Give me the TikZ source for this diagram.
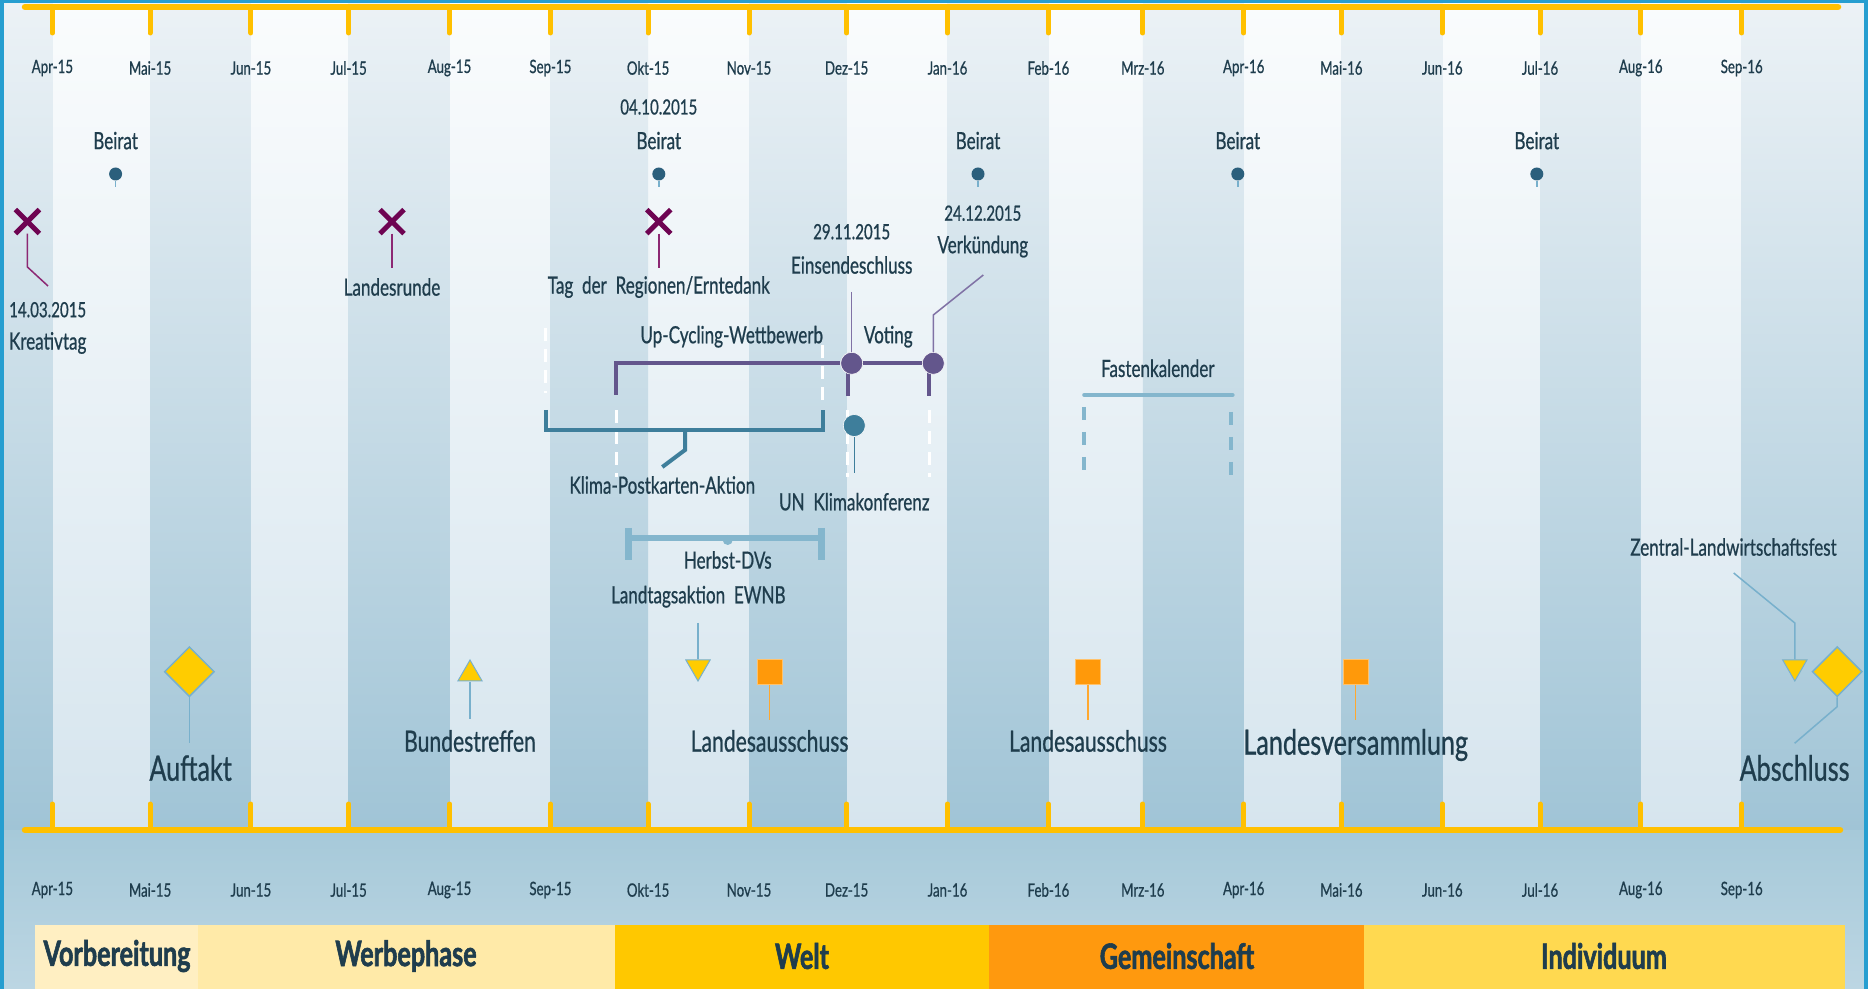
\documentclass[tikz,border=0pt]{standalone}
\usepackage{fontspec}
\setmainfont{Lato}[FakeStretch=0.72,FakeBold=0.7,BoldFeatures={FakeBold=1.6}]
\usepackage{xcolor}
\definecolor{Ink}{RGB}{31,61,77}
\definecolor{Gold}{RGB}{255,192,0}
\definecolor{Frame}{RGB}{38,158,208}
\definecolor{LightTop}{RGB}{250,252,253}
\definecolor{LightBot}{RGB}{214,229,238}
\definecolor{DarkTop}{RGB}{236,242,246}
\definecolor{DarkBot}{RGB}{160,196,214}
\definecolor{BaseTop}{RGB}{166,201,217}
\definecolor{BaseBot}{RGB}{188,214,227}
\definecolor{Plum}{RGB}{110,4,82}
\definecolor{PlumLine}{RGB}{140,40,115}
\definecolor{Violet}{RGB}{99,86,140}
\definecolor{VioletLine}{RGB}{128,114,165}
\definecolor{Teal}{RGB}{62,126,155}
\definecolor{TealDark}{RGB}{43,95,124}
\definecolor{Sky}{RGB}{132,182,205}
\definecolor{SkyLine}{RGB}{120,176,204}
\definecolor{Sun}{RGB}{255,204,0}
\definecolor{Tangerine}{RGB}{255,153,10}
\definecolor{PhaseA}{RGB}{255,239,194}
\definecolor{PhaseB}{RGB}{255,234,168}
\definecolor{PhaseC}{RGB}{255,200,0}
\definecolor{PhaseD}{RGB}{255,153,14}
\definecolor{PhaseE}{RGB}{255,217,80}
\usepackage{tikz}
\usetikzlibrary{shapes.geometric}
\usetikzlibrary{shapes.misc}
\tikzstyle{Month}=[text=Ink,inner sep=0pt,font=\fontsize{10.5}{12}\selectfont]
\tikzstyle{Label}=[text=Ink,inner sep=0pt,font=\fontsize{13.5}{16}\selectfont]
\tikzstyle{Date}=[Label,font=\fontsize{11.9}{14}\selectfont]
\tikzstyle{LabelM}=[Label,font=\fontsize{16.7}{20}\selectfont]
\tikzstyle{LabelL}=[Label,font=\fontsize{19.9}{24}\selectfont]
\tikzstyle{Phase}=[Label,font=\fontsize{19.9}{24}\selectfont\bfseries]
\tikzstyle{Axis}=[draw=Gold,line width=1.3mm,line cap=round]
\tikzstyle{Tick}=[draw=Gold,line width=1mm,line cap=round]
\tikzstyle{Cross}=[cross out,draw=Plum,line width=1mm,minimum size=3.8mm,inner sep=0pt]
\tikzstyle{BeiratDot}=[circle,fill=TealDark,minimum size=2.6mm,inner sep=0pt]
\tikzstyle{Knot}=[circle,fill=Violet,draw=white,line width=.3pt,minimum size=4.4mm,inner sep=0pt]
\tikzstyle{UNDot}=[circle,fill=Teal,draw=white,line width=.3pt,minimum size=4.4mm,inner sep=0pt]
\tikzstyle{Rhomb}=[diamond,fill=Sun,draw=SkyLine,line width=.3mm,minimum size=10mm,inner sep=0pt]
\tikzstyle{TriUp}=[regular polygon,regular polygon sides=3,fill=Sun,draw=SkyLine,line width=.2mm,minimum size=5.6mm,inner sep=0pt]
\tikzstyle{TriDown}=[TriUp,shape border rotate=180]
\tikzstyle{Square}=[rectangle,fill=Tangerine,draw=Tangerine!60!white,line width=.2mm,minimum size=5mm,inner sep=0pt]
\tikzstyle{Beam}=[draw=Violet,line width=.8mm]
\tikzstyle{Bracket}=[draw=Teal,line width=.8mm]
\tikzstyle{Span}=[draw=Sky,line width=1.2mm]
\tikzstyle{PinPlum}=[draw=PlumLine,line width=.3mm]
\tikzstyle{PinViolet}=[draw=VioletLine,line width=.3mm]
\tikzstyle{PinSky}=[draw=SkyLine,line width=.3mm]
\tikzstyle{PinOrange}=[draw=Tangerine!85!white,line width=.3mm]
\tikzstyle{WhiteDash}=[draw=white,line width=.6mm,dash pattern=on 2.6mm off 1.6mm]
\tikzstyle{SkyDash}=[draw=Sky,line width=.8mm,dash pattern=on 2.6mm off 2.4mm]

\begin{document}
\begin{tikzpicture}[x=.2mm,y=-.2mm]
    \useasboundingbox(0,0)rectangle(1868,989);
    \shade[top color=LightTop,bottom color=LightBot](0,0)rectangle(1868,830);
    \foreach \a/\b in {0/52.4,150.1/250.9,348.6/449.5,550.4/648.1,749.0/846.6,
        947.5/1048.4,1142.8/1243.7,1341.4/1442.3,1540.0/1640.8,1741.7/1868}
        \shade[top color=DarkTop,bottom color=DarkBot](\a,0)rectangle(\b,830);
    \shade[top color=BaseTop,bottom color=BaseBot](0,830)rectangle(1868,989);
    \fill[Frame](0,0)rectangle(1868,3.5);
    \fill[Frame](0,0)rectangle(4,989);
    \fill[Frame](1864,0)rectangle(1868,989);
    \draw[Axis](25,7)--(1838,7);
    \draw[Axis](25,830)--(1840,830);
    \foreach \x/\m [count=\i] in {52.4/Apr-15,150.1/Mai-15,250.9/Jun-15,348.6/Jul-15,
        449.5/Aug-15,550.4/Sep-15,648.1/Okt-15,749.0/Nov-15,846.6/Dez-15,947.5/Jan-16,
        1048.4/Feb-16,1142.8/Mrz-16,1243.7/Apr-16,1341.4/Mai-16,1442.3/Jun-16,
        1540.0/Jul-16,1640.8/Aug-16,1741.7/Sep-16}{
        \draw[Tick](\x,10)--(\x,33);
        \draw[Tick](\x,804)--(\x,830);
        \node[Month](mt\i)at(\x,68){\m};
        \node[Month](mb\i)at(\x,890){\m};
    }
    \fill[PhaseA](35,925)rectangle(198,989);
    \fill[PhaseB](198,925)rectangle(615,989);
    \fill[PhaseC](615,925)rectangle(989,989);
    \fill[PhaseD](989,925)rectangle(1364,989);
    \fill[PhaseE](1364,925)rectangle(1845,989);
    \node[Phase](vorb)at(117,956){Vorbereitung};
    \node[Phase](werb)at(406,956){Werbephase};
    \node[Phase](welt)at(802,956){Welt};
    \node[Phase](gem)at(1177,956){Gemeinschaft};
    \node[Phase](ind)at(1604,956){Individuum};
    \draw[WhiteDash](545.7,328)--(545.7,393);
    \draw[WhiteDash](616.3,410)--(616.3,477);
    \draw[WhiteDash](822.7,345)--(822.7,405);
    \draw[WhiteDash](847.7,410)--(847.7,477);
    \draw[WhiteDash](929,410)--(929,477);
    \foreach \x [count=\i] in {115.6,658.8,978,1237.8,1536.8}{
        \node[Label](beirat\i)at(\x,140.6){Beirat};
        \node[BeiratDot](bdot\i)at(\x,174){};
        \coordinate(bstem\i)at(\x,187);
        \draw[PinSky](bdot\i.south)--(bstem\i);
    }
    \node[Date](d0410)at(658.8,107){04.10.2015};
    \node[Cross](x1)at(27.4,221.6){};
    \node[Cross](x2)at(392,221.6){};
    \node[Cross](x3)at(658.8,221.6){};
    \coordinate(x1b)at(27.4,267);
    \coordinate(x1e)at(48,286);
    \coordinate(x2e)at(392,268);
    \coordinate(x3e)at(658.8,268);
    \draw[PinPlum](x1)--(x1b)--(x1e);
    \draw[PinPlum](x2)--(x2e);
    \draw[PinPlum](x3)--(x3e);
    \node[Date](d1403)at(47.7,309.7){14.03.2015};
    \node[Label](kreativ)at(47.7,343){Kreativtag};
    \node[Label](landesrunde)at(392,287){Landesrunde};
    \node[Label](tag)at(658.8,287){Tag\ \ der\ \ Regionen/Erntedank};
    \coordinate(uc0)at(616.3,395);
    \coordinate(uc1)at(616.3,363.3);
    \node[Knot](einsend)at(851.7,363.3){};
    \node[Knot](verk)at(933.3,363.3){};
    \coordinate(e1)at(847.5,363.3);
    \coordinate(e2)at(847.5,396);
    \coordinate(v1)at(928.5,363.3);
    \coordinate(v2)at(928.5,396);
    \draw[Beam](uc0)--(uc1)--(einsend)--(verk);
    \draw[Beam](e1)--(e2);
    \draw[Beam](v1)--(v2);
    \node[Knot]at(einsend){};
    \node[Knot]at(verk){};
    \node[Label](upcycling)at(731.7,336.7){Up-Cycling-Wettbewerb};
    \node[Label](voting)at(888.3,336.7){Voting};
    \node[Date](d2911)at(851.7,231.7){29.11.2015};
    \node[Label](einsendl)at(851.7,265){Einsendeschluss};
    \coordinate(einsendp)at(851.7,292);
    \draw[PinViolet](einsendp)--(einsend);
    \node[Date](d2412)at(982.8,213.2){24.12.2015};
    \node[Label](verkl)at(982.8,246.6){Verkündung};
    \coordinate(verkp)at(983.3,275);
    \coordinate(verkk)at(933.3,315);
    \draw[PinViolet](verkp)--(verkk)--(verk);
    \coordinate(kp0)at(545.7,410);
    \coordinate(kp1)at(545.7,430);
    \coordinate(kp2)at(822.7,430);
    \coordinate(kp3)at(822.7,410);
    \coordinate(kpm)at(685,430);
    \coordinate(kpn)at(685,450);
    \coordinate(kpe)at(662.3,467);
    \draw[Bracket](kp0)--(kp1)--(kp2)--(kp3);
    \draw[Bracket](kpm)--(kpn)--(kpe);
    \node[Label](klima)at(662.3,485){Klima-Postkarten-Aktion};
    \node[UNDot](un)at(854.3,425.5){};
    \coordinate(une)at(854.3,473);
    \draw[draw=Teal,line width=.3mm](un)--(une);
    \node[UNDot]at(un){};
    \node[Label](unl)at(854.3,501.7){UN\ \ Klimakonferenz};
    \coordinate(hb0)at(628,538.3);
    \coordinate(hb1)at(821,538.3);
    \draw[Span](hb0)--(hb1);
    \draw[Span,line width=1.4mm](628,528)--(628,560);
    \draw[Span,line width=1.4mm](821,528)--(821,560);
    \fill[Sky](727.7,540)circle(5);
    \node[Label](herbst)at(727.7,560){Herbst-DVs};
    \node[Label](landtag)at(698.3,596.7){Landtagsaktion\ \ EWNB};
    \node[TriDown](landtagm)at(698,667){};
    \coordinate(landtagp)at(698,623);
    \draw[PinSky](landtagp)--(landtagm.north);
    \node[Label](fasten)at(1157.8,368.3){Fastenkalender};
    \coordinate(fk0)at(1084.2,395);
    \coordinate(fk1)at(1232.6,395);
    \draw[draw=Sky,line width=.8mm,line cap=round](fk0)--(fk1);
    \draw[SkyDash](1084.2,407)--(1084.2,475);
    \draw[SkyDash](1231.4,412)--(1231.4,480);
    \node[Rhomb](auftaktm)at(189.4,671.7){};
    \coordinate(auftaktp)at(189.4,743);
    \draw[PinSky](auftaktm.south)--(auftaktp);
    \node[LabelL](auftakt)at(190.6,768){Auftakt};
    \node[TriUp](bundm)at(470,674){};
    \coordinate(bundp)at(470,719);
    \draw[PinSky](bundm.south)--(bundp);
    \node[LabelM](bund)at(470,741){Bundestreffen};
    \node[Square](la1m)at(769.6,672){};
    \coordinate(la1p)at(769.6,720);
    \draw[PinOrange](la1m)--(la1p);
    \node[LabelM](la1)at(769.6,741){Landesausschuss};
    \node[Square](la2m)at(1088,672){};
    \coordinate(la2p)at(1088,720);
    \draw[PinOrange](la2m)--(la2p);
    \node[LabelM](la2)at(1088,741){Landesausschuss};
    \node[Square](lvm)at(1355.7,672){};
    \coordinate(lvp)at(1355.7,720);
    \draw[PinOrange](lvm)--(lvp);
    \node[LabelL](lv)at(1355.7,745){Landesversammlung};
    \node[Label](zlf)at(1733.5,547){Zentral-Landwirtschaftsfest};
    \node[TriDown](zlfm)at(1794.8,667){};
    \coordinate(zlf0)at(1733.7,573);
    \coordinate(zlf1)at(1794.8,623);
    \draw[PinSky](zlf0)--(zlf1)--(zlfm.north);
    \node[Rhomb](abschm)at(1837.2,671.7){};
    \coordinate(absch0)at(1837.2,706.7);
    \coordinate(absch1)at(1794.6,743.3);
    \draw[PinSky](abschm.south)--(absch0)--(absch1);
    \node[LabelL](absch)at(1794.6,768){Abschluss};
\end{tikzpicture}
\end{document}
